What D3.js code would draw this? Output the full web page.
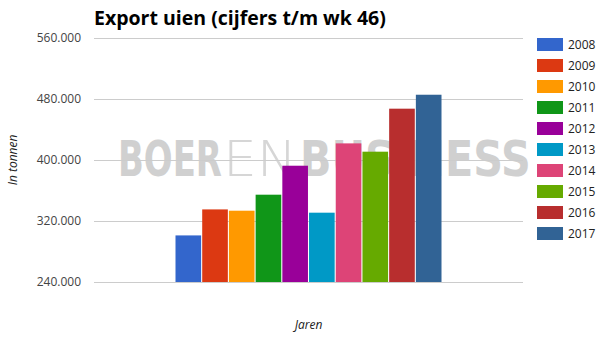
<!DOCTYPE html>
<html>
<head>
<meta charset="utf-8">
<script src="https://cdn.jsdelivr.net/npm/d3@7/dist/d3.min.js"></script>
<style>
  body { margin: 0; background: #fff; }
  text { font-family: "Open Sans", Arial, sans-serif; }
</style>
</head>
<body>
<script>
var years = ["2008","2009","2010","2011","2012","2013","2014","2015","2016","2017"];
var exportTons = [301100, 335200, 333500, 354500, 392500, 330900, 421800, 410900, 467300, 485600];
var colors = ["#3366cc","#dc3912","#ff9900","#109618","#990099","#0099c6","#dd4477","#66aa00","#b82e2e","#316395"];
var yTicks = [240000, 320000, 400000, 480000, 560000];

var W = 606, H = 340;
var plot = {left: 94, right: 523, top: 38, bottom: 282};

var svg = d3.select("body").append("svg")
    .attr("width", W)
    .attr("height", H)

var y = d3.scaleLinear()
    .domain([240000, 560000])
    .range([plot.bottom, plot.top])

var fmt = function(v){ return d3.format(",")(v).replace(/,/g, "."); }

// watermark, three parts (bold / thin / bold), squeezed to width with a scale
var wmParts = [
    {t: "BOER", x: 118, w: 104, weight: "bold", fill: "#d0d0d0"},
    {t: "EN", x: 223, w: 74, weight: 200, fill: "#d6d6d6"},
    {t: "BUSINESS", x: 300, w: 231, weight: "bold", fill: "#d0d0d0"}
];
svg.append("g").selectAll("text").data(wmParts).enter().append("text")
    .attr("font-size", 50)
    .attr("font-weight", function(d){ return d.weight; })
    .attr("fill", function(d){ return d.fill; })
    .style("font-family", "'DejaVu Sans', Arial, sans-serif")
    .text(function(d){ return d.t; })
    .attr("transform", function(d){
        var len = this.getComputedTextLength();
        return "translate(" + d.x + ",176) scale(" + (d.w / len) + ",1)";
    })

// gridlines
svg.append("g").selectAll("line").data(yTicks).enter().append("line")
    .attr("x1", plot.left).attr("x2", plot.right)
    .attr("y1", function(d){ return Math.round(y(d)) + 0.5; })
    .attr("y2", function(d){ return Math.round(y(d)) + 0.5; })
    .attr("stroke", "#cccccc")
    .attr("stroke-width", 1)

// y axis labels
var yAxis = d3.axisLeft(y).tickValues(yTicks).tickFormat(fmt).tickSize(0).tickPadding(13);
var ga = svg.append("g").attr("transform", "translate(" + plot.left + ",0)").call(yAxis);
ga.select(".domain").remove();
ga.selectAll("text").attr("font-size", 12).attr("fill", "#444").style("font-family", "'Open Sans', Arial, sans-serif");

// bars
var groupW = 266;
var cx = (plot.left + plot.right) / 2;
var x = d3.scaleBand()
    .domain(years)
    .range([cx - groupW / 2, cx + groupW / 2])
    .paddingInner(0.04)

svg.append("g").selectAll("rect").data(years).enter().append("rect")
    .attr("x", function(d){ return x(d); })
    .attr("width", x.bandwidth())
    .attr("y", function(d, i){ return y(exportTons[i]); })
    .attr("height", function(d, i){ return plot.bottom - y(exportTons[i]); })
    .attr("fill", function(d, i){ return colors[i]; })

// title
svg.append("text")
    .attr("x", 94).attr("y", 25)
    .attr("font-size", 19.5)
    .attr("font-weight", "bold")
    .attr("fill", "#000")
    .text("Export uien (cijfers t/m wk 46)")

// axis titles
svg.append("text")
    .attr("transform", "translate(17,160) rotate(-90)")
    .attr("text-anchor", "middle")
    .attr("font-size", 12)
    .attr("font-style", "italic")
    .attr("fill", "#222")
    .text("In tonnen")

svg.append("text")
    .attr("x", cx).attr("y", 329)
    .attr("text-anchor", "middle")
    .attr("font-size", 12)
    .attr("font-style", "italic")
    .attr("fill", "#222")
    .text("Jaren")

// legend
var lg = svg.append("g").selectAll("g").data(years).enter().append("g")
    .attr("transform", function(d, i){ return "translate(537," + (38 + i * 21) + ")"; })
lg.append("rect").attr("width", 26).attr("height", 13).attr("fill", function(d, i){ return colors[i]; })
lg.append("text").attr("x", 31).attr("y", 11).attr("font-size", 12).attr("fill", "#222").text(function(d){ return d; })
</script>
</body>
</html>
